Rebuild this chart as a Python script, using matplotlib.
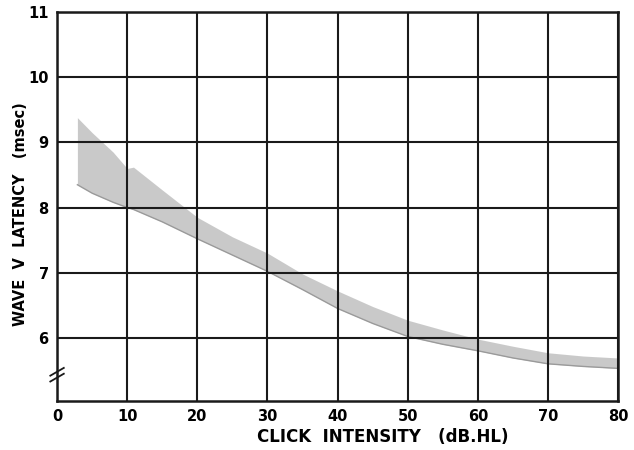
import matplotlib.pyplot as plt

# band (click intensity in dB HL, wave V latency in msec)
x_band = [2.9, 5, 8, 10, 10.9, 15, 20, 25, 30, 35, 40, 45, 50, 55, 60, 65, 70, 75, 80]
upper = [9.38, 9.15, 8.85, 8.6, 8.62, 8.27, 7.85, 7.55, 7.3, 6.98, 6.72, 6.48, 6.27, 6.12, 5.98, 5.87, 5.77, 5.72, 5.69]
lower = [8.35, 8.22, 8.08, 8.0, 7.97, 7.78, 7.52, 7.27, 7.02, 6.74, 6.45, 6.22, 6.02, 5.9, 5.8, 5.69, 5.6, 5.56, 5.53]

x_ticks = [0, 10, 20, 30, 40, 50, 60, 70, 80]
y_ticks = [6, 7, 8, 9, 10, 11]

fig = plt.figure(figsize=(6.34, 4.5), dpi=100)
ax = fig.add_axes([0.09, 0.109, 0.885, 0.864])

ax.fill_between(x_band, lower, upper, color="#c4c4c4", alpha=0.9, lw=0, zorder=1)
ax.plot(x_band, lower, color="#9a9a9a", lw=1.0, zorder=1)

ax.set_xlim(0, 80)
ax.set_ylim(5.03, 11)
ax.set_xticks(x_ticks)
ax.set_yticks(y_ticks)
ax.set_xticklabels([str(v) for v in x_ticks], fontsize=10.5, fontweight="bold")
ax.set_yticklabels([str(v) for v in y_ticks], fontsize=10.5, fontweight="bold")
ax.tick_params(length=0, pad=6)
ax.grid(True, color="#1a1a1a", lw=1.5, zorder=2)
ax.set_axisbelow(False)
for s in ax.spines.values():
    s.set_linewidth(1.8)
    s.set_color("#1a1a1a")

# axis break mark on the y axis
d = 0.008
kw = dict(transform=ax.transAxes, color="#1a1a1a", lw=1.3, clip_on=False, zorder=5)
ax.plot([-d * 1.5, d * 1.5], [0.065, 0.085], **kw)
ax.plot([-d * 1.5, d * 1.5], [0.050, 0.070], **kw)

fig.text(0.032, 0.525, "WAVE  V  LATENCY   (msec)", rotation=90, ha="center", va="center",
         fontsize=10.5, fontweight="bold")
fig.text(0.604, 0.03, "CLICK  INTENSITY   (dB.HL)", ha="center", va="center",
         fontsize=12, fontweight="bold")

fig.savefig("out.png", dpi=100)
